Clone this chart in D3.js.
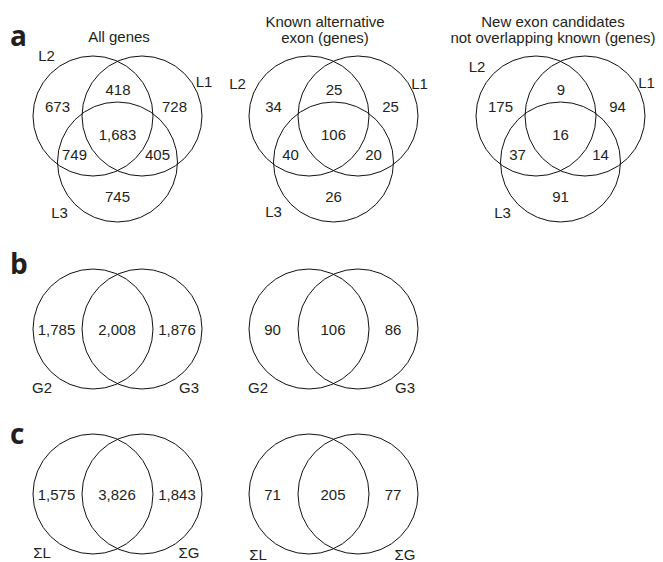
<!DOCTYPE html>
<html>
<head>
<meta charset="utf-8">
<script src="https://cdn.jsdelivr.net/npm/d3@7"></script>
<style>
  html, body { margin: 0; padding: 0; background: #fff; }
  svg { display: block; }
  .num, .title, .setlab { font-family: "Liberation Sans", Arial, Helvetica, sans-serif; fill: #231f20; }
  .panel { font-family: "Open Sans", "DejaVu Sans", sans-serif; font-weight: 700; fill: #231f20; }
</style>
</head>
<body>
<svg id="chart" width="663" height="562"></svg>
<script>
// Region order for three-set diagrams:
// L2 only, L1∩L2, L1 only, L1∩L2∩L3, L2∩L3, L1∩L3, L3 only
const tripleRegions = ["L2", "L1L2", "L1", "L1L2L3", "L2L3", "L1L3", "L3"];
const allGenesCounts   = [673, 418, 728, 1683, 749, 405, 745];
const knownExonCounts  = [34, 25, 25, 106, 40, 20, 26];
const newExonCounts    = [175, 9, 94, 16, 37, 14, 91];

const tripleTitles = [
  ["All genes"],
  ["Known alternative", "exon (genes)"],
  ["New exon candidates", "not overlapping known (genes)"]
];
const tripleSets = ["L1", "L2", "L3"];

// Region order for two-set diagrams: left only, both, right only
const pairRegions = ["left", "both", "right"];
const groupAllCounts     = [1785, 2008, 1876];
const groupKnownCounts   = [90, 106, 86];
const groupSets          = ["G2", "G3"];
const sumAllCounts       = [1575, 3826, 1843];
const sumKnownCounts     = [71, 205, 77];
const sumSets            = ["ΣL", "ΣG"];

const panelLetters = ["a", "b", "c"];

// ---- layout ----
const svg = d3.select("#chart");
const R = 60;
const fmt = d3.format(",");

const colX = d3.scaleOrdinal().domain([0, 1, 2]).range([117.5, 333.5, 560.5]);
const rowY = d3.scaleOrdinal().domain(panelLetters).range([116, 329, 494]);

// circle centre offsets from a diagram's centre
const tripleCircle = { L2: [-24.5, 0], L1: [24.5, 0], L3: [0, 46] };
// count label offsets from a diagram's centre
const tripleText = {
  L2: [-60, -9], L1L2: [0.5, -26], L1: [57, -9], L1L2L3: [0, 19],
  L2L3: [-43, 39], L1L3: [40, 39], L3: [0, 81]
};
// set-name label offsets from their own circle centres (L2 placement varies per diagram)
const tripleSetText = [
  { L1: [62, -29], L2: [-46.5, -55], L3: [-58, 56] },
  { L1: [61.5, -27], L2: [-71.5, -27], L3: [-60, 55] },
  { L1: [61.5, -28], L2: [-59, -44], L3: [-58, 56] }
];
// horizontal shift of each title from its diagram's centre
const titleShift = [1.5, -8.5, -7.5];

const pairCircle = { left: [-24.5, 0], right: [24.5, 0] };
const pairText = { left: [-61, 0], both: [-0.5, 0], right: [59.5, 0] };
const pairSetText = [[-51, 64], [47, 64]];

// panel letters
const letterPos = { a: 46, b: 274, c: 444 };
svg.selectAll("text.panel").data(panelLetters).join("text")
  .attr("class", "panel")
  .attr("x", 10)
  .attr("y", d => letterPos[d])
  .attr("font-size", 28)
  .text(d => d);

// ---- three-set diagrams (row a) ----
const tripleData = [allGenesCounts, knownExonCounts, newExonCounts];
tripleData.forEach((counts, i) => {
  const cx = colX(i), cy = rowY("a");
  const g = svg.append("g");

  g.selectAll("circle").data(["L2", "L1", "L3"]).join("circle")
    .attr("cx", d => cx + tripleCircle[d][0])
    .attr("cy", d => cy + tripleCircle[d][1])
    .attr("r", R)
    .attr("fill", "none")
    .attr("stroke", "#111")
    .attr("stroke-width", 1);

  g.selectAll("text.num").data(tripleRegions.map((k, j) => ({ k, v: counts[j] })))
    .join("text")
    .attr("class", "num")
    .attr("x", d => cx + tripleText[d.k][0])
    .attr("y", d => cy + tripleText[d.k][1])
    .attr("dy", "0.36em")
    .attr("text-anchor", "middle")
    .attr("font-size", 15)
    .text(d => fmt(d.v));

  g.selectAll("text.setlab").data(tripleSets).join("text")
    .attr("class", "setlab")
    .attr("x", d => cx + tripleCircle[d][0] + tripleSetText[i][d][0])
    .attr("y", d => cy + tripleCircle[d][1] + tripleSetText[i][d][1])
    .attr("text-anchor", "middle")
    .attr("font-size", 15)
    .text(d => d);

  const lines = tripleTitles[i];
  const baseY = lines.length === 1 ? [42] : [27, 43];
  g.selectAll("text.title").data(lines).join("text")
    .attr("class", "title")
    .attr("x", cx + titleShift[i])
    .attr("y", (d, j) => baseY[j])
    .attr("text-anchor", "middle")
    .attr("font-size", 15)
    .text(d => d);
});

// ---- two-set diagrams (rows b and c) ----
const pairPanels = [
  { row: "b", col: 0, counts: groupAllCounts, sets: groupSets },
  { row: "b", col: 1, counts: groupKnownCounts, sets: groupSets },
  { row: "c", col: 0, counts: sumAllCounts, sets: sumSets },
  { row: "c", col: 1, counts: sumKnownCounts, sets: sumSets }
];
pairPanels.forEach(p => {
  const cx = colX(p.col), cy = rowY(p.row);
  const g = svg.append("g");

  g.selectAll("circle").data(["left", "right"]).join("circle")
    .attr("cx", d => cx + pairCircle[d][0])
    .attr("cy", cy)
    .attr("r", R)
    .attr("fill", "none")
    .attr("stroke", "#111")
    .attr("stroke-width", 1);

  g.selectAll("text.num").data(pairRegions.map((k, j) => ({ k, v: p.counts[j] })))
    .join("text")
    .attr("class", "num")
    .attr("x", d => cx + pairText[d.k][0])
    .attr("y", cy + 1)
    .attr("dy", "0.36em")
    .attr("text-anchor", "middle")
    .attr("font-size", 15)
    .text(d => fmt(d.v));

  const extra = (p.row === "c" && p.col === 1) ? 2 : 0;
  g.selectAll("text.setlab").data(p.sets).join("text")
    .attr("class", "setlab")
    .attr("x", (d, j) => cx + pairCircle[j ? "right" : "left"][0] + pairSetText[j][0])
    .attr("y", cy + pairSetText[0][1] + extra)
    .attr("text-anchor", "middle")
    .attr("font-size", 15)
    .text(d => d);
});
</script>
</body>
</html>
